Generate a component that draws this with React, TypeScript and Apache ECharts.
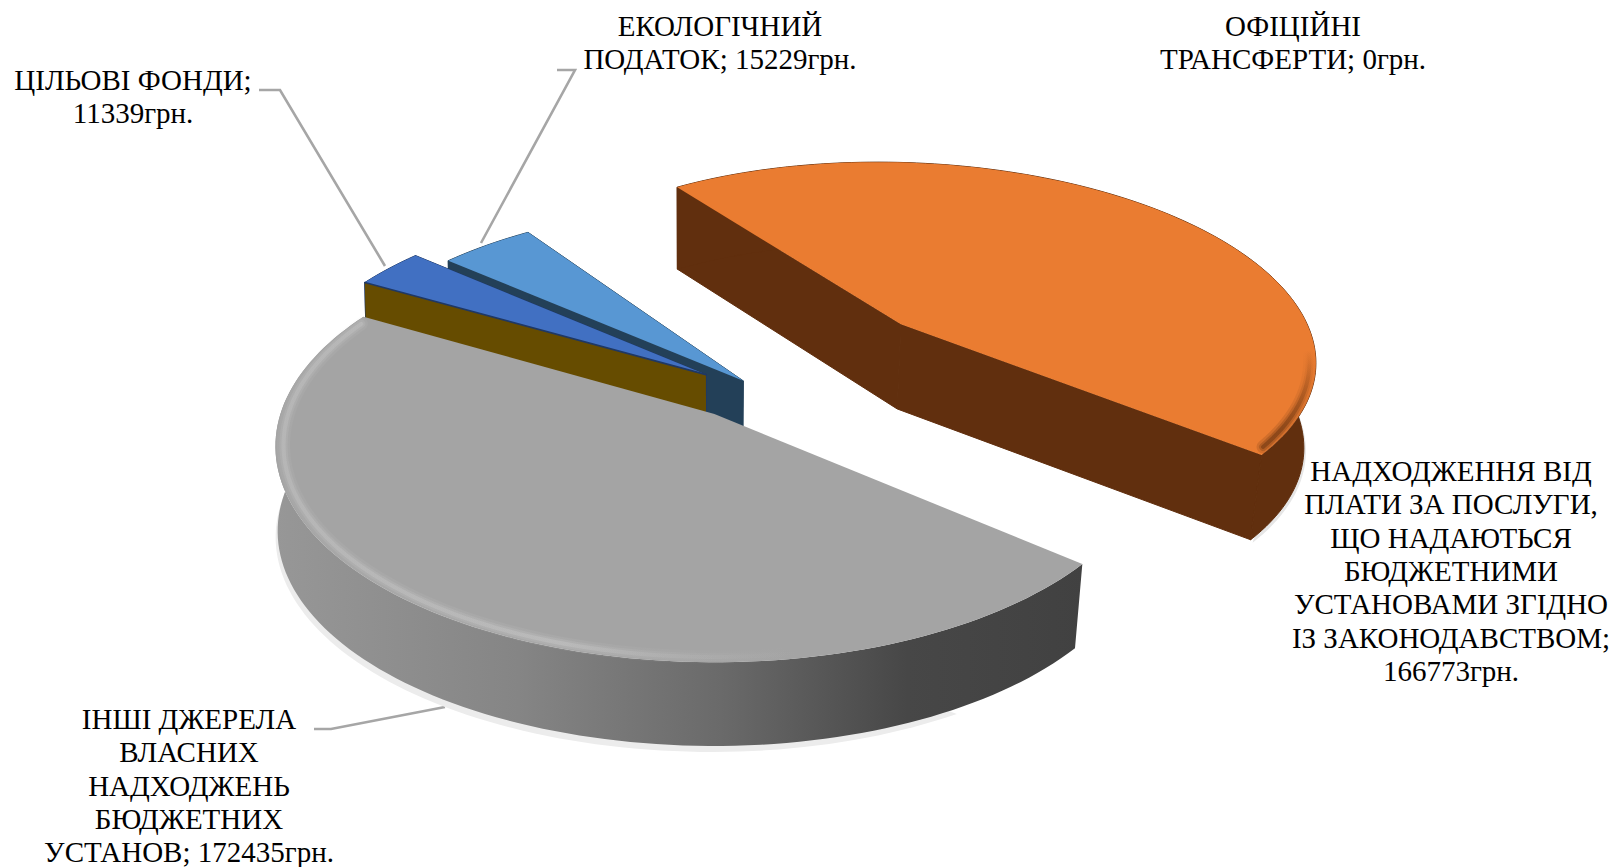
import React, { useEffect, useRef } from "react";
import * as echarts from "echarts";

// Clockwise order of the slices, beginning at the lower right of the grey one.
const categories = [
  "ІНШІ ДЖЕРЕЛА ВЛАСНИХ НАДХОДЖЕНЬ БЮДЖЕТНИХ УСТАНОВ",
  "ОФІЦІЙНІ ТРАНСФЕРТИ",
  "ЦІЛЬОВІ ФОНДИ",
  "ЕКОЛОГІЧНИЙ ПОДАТОК",
  "НАДХОДЖЕННЯ ВІД ПЛАТИ ЗА ПОСЛУГИ, ЩО НАДАЮТЬСЯ БЮДЖЕТНИМИ УСТАНОВАМИ ЗГІДНО ІЗ ЗАКОНОДАВСТВОМ",
];
const values = [172435, 0, 11339, 15229, 166773];
const unit = "грн.";
const labelLines = [
  ["ІНШІ ДЖЕРЕЛА", "ВЛАСНИХ", "НАДХОДЖЕНЬ", "БЮДЖЕТНИХ", "УСТАНОВ; "],
  ["ОФІЦІЙНІ", "ТРАНСФЕРТИ; "],
  ["ЦІЛЬОВІ ФОНДИ;", ""],
  ["ЕКОЛОГІЧНИЙ", "ПОДАТОК; "],
  ["НАДХОДЖЕННЯ ВІД", "ПЛАТИ ЗА ПОСЛУГИ,", "ЩО НАДАЮТЬСЯ", "БЮДЖЕТНИМИ", "УСТАНОВАМИ ЗГІДНО", "ІЗ ЗАКОНОДАВСТВОМ;", ""],
];

// styling and layout, separate from the data
const topColors = ["#A4A4A4", "#FFC000", "#4170C2", "#5897D3", "#EA7C31"];
const wallColors = ["#555555", "#664C00", "#1F3864", "#234058", "#612F0E"];
const explode: number[][] = [[0, 0], [-0.02, 0.192], [-0.02, 0.192], [0.068, 0.161], [0.459, 0.454]];
const drawOrder = [3, 4, 2, 1, 0];
const labelPos = [[189, 719], [1293, 26], [133, 80], [720, 26], [1451, 471]];
const lineStep = 33.3;
const leaders = [
  [[314, 729], [331, 729], [445, 707]],
  [[259, 90], [280, 90], [385, 266]],
  [[557, 70], [575, 70], [481, 243]],
];
const START = -40, OX = 714.4, OY = 414, RX = 434, RY = 211, P = 0.15, DEPTH = 85;
const total = values.reduce((a, b) => a + b, 0);
const d2r = Math.PI / 180;

function project(u: number, v: number) {
  const w = 1 + P * v;
  return [OX + (RX * u) / w, OY - (RY * v) / w];
}
function lower(u: number, v: number) {
  const w = 1 + P * v;
  const p = project(u, v);
  const k = p[0] > OX ? 0.98 : 0.995;
  const d = w < 1 ? DEPTH * (1 - 0.1 * (1 - w)) : DEPTH * (1 - 0.25 * Math.max(0, w - 1.05));
  return [OX + (p[0] - OX) * k, p[1] + d];
}

let acc = START;
const slices = values.map((val, i) => {
  const from = acc;
  const to = acc - (val / total) * 360;
  acc = to;
  return { from, to, off: explode[i] };
});

function arc(s: any, r: number, a0: number, a1: number, fn = project) {
  const n = Math.max(2, Math.ceil(Math.abs(a1 - a0) / 1.5));
  const pts: number[][] = [];
  for (let k = 0; k <= n; k++) {
    const a = (a0 + ((a1 - a0) * k) / n) * d2r;
    pts.push(fn(s.off[0] + r * Math.cos(a), s.off[1] + r * Math.sin(a)));
  }
  return pts;
}
function wall(s: any, ang: number) {
  const a = ang * d2r;
  const u0 = s.off[0], v0 = s.off[1];
  const u1 = u0 + Math.cos(a), v1 = v0 + Math.sin(a);
  return [project(u0, v0), project(u1, v1), lower(u1, v1), lower(u0, v0)];
}
const poly = (points: number[][], fill: any, extra: any = {}) => ({
  type: "polygon", shape: { points }, style: { fill, ...extra },
});
const stroke = (points: number[][], strokeStyle: any, lineWidth: number, opacity = 1) => ({
  type: "polyline", shape: { points },
  style: { fill: "none", stroke: strokeStyle, lineWidth, opacity, lineCap: "round" },
});
const linear = (x0: number, y0: number, x1: number, y1: number, stops: [number, string][]) =>
  new echarts.graphic.LinearGradient(x0, y0, x1, y1, stops.map(([offset, color]) => ({ offset, color })), true);

function renderSlice(_: any, api: any) {
  const i = api.value(0);
  const s = slices[i];
  const children: any[] = [];
  if (i === 1) {
    // the empty slice shows only its cut face
    const f = wall(s, s.from);
    children.push(poly(f, wallColors[1]));
    children.push(stroke([f[0], f[1]], "#1F3864", 1.6));
    return { type: "group", children };
  }
  const topOuter = arc(s, 1, s.from, s.to);
  const apex = project(s.off[0], s.off[1]);
  if (i === 0) {
    const shadowPts = arc(s, 1, -60, -190, lower).map((p) => [p[0] - 2, p[1] + 6]);
    children.push(poly(shadowPts, "#ECECEC"));
  }
  if (i === 4) {
    const shadowPts = arc(s, 1, s.to, s.to + 44, lower).map((p) => [p[0] + 2, p[1] + 3]);
    children.push(poly(shadowPts, "#E6E6E6"));
  }
  const rim = [...arc(s, 1, s.from, s.to), ...arc(s, 1, s.from, s.to, lower).reverse()];
  if (i === 0) {
    children.push(poly(rim, linear(276, 0, 1085, 0, [
      [0, "#979797"], [0.3, "#858585"], [0.55, "#6A6A6A"], [0.78, "#474747"], [1, "#414141"],
    ])));
  } else {
    const wc = wallColors[i];
    children.push(poly(wall(s, s.from), wc, { stroke: wc, lineWidth: 1 }));
    children.push(poly(wall(s, s.to), wc, { stroke: wc, lineWidth: 1 }));
    children.push(poly(rim, wc, { stroke: wc, lineWidth: 1 }));
  }
  children.push(poly([apex, ...topOuter], topColors[i]));
  if (i === 0) {
    const edge = arc(s, 0.982, s.to + 2, -70);
    const g = linear(276, 0, 800, 0, [
      [0, "rgba(215,215,215,0.5)"], [0.55, "rgba(220,220,220,0.55)"], [1, "rgba(200,200,200,0)"],
    ]);
    children.push(stroke(edge, g, 13, 0.15), stroke(edge, g, 8, 0.25), stroke(edge, g, 4, 0.4));
  }
  if (i === 4) {
    const edge = arc(s, 0.985, -38, 18);
    const g = linear(0, 350, 0, 430, [[0, "rgba(97,47,14,0)"], [1, "rgba(97,47,14,0.9)"]]);
    children.push(stroke(edge, g, 13, 0.2), stroke(edge, g, 8, 0.3), stroke(edge, g, 4, 0.5));
  }
  return { type: "group", children };
}

const labelGraphics: any[] = [];
labelLines.forEach((lines, i) => {
  const full = lines.map((l, k) => {
    if (k !== lines.length - 1) return l;
    return l + values[i] + unit;
  });
  full.forEach((line, k) => {
    labelGraphics.push({
      type: "text",
      x: labelPos[i][0],
      y: labelPos[i][1] + k * lineStep,
      style: {
        text: line,
        fill: "#000000",
        font: '29px "Liberation Serif", "Times New Roman", serif',
        textAlign: "center",
        textVerticalAlign: "middle",
      },
    });
  });
});
const leaderGraphics = leaders.map((points) => ({
  type: "polyline",
  shape: { points },
  style: { fill: "none", stroke: "#A6A6A6", lineWidth: 2.6 },
}));

export default function App() {
  const ref = useRef<HTMLDivElement>(null);
  useEffect(() => {
    const chart = echarts.init(ref.current!, undefined, { renderer: "svg" });
    chart.setOption({
      animation: false,
      backgroundColor: "#FFFFFF",
      series: [{
        type: "custom",
        coordinateSystem: "none",
        renderItem: renderSlice,
        data: drawOrder.map((i) => ({ name: categories[i], value: [i, values[i]] })),
        silent: true,
      }],
      graphic: { elements: [...leaderGraphics, ...labelGraphics] },
    });
    return () => chart.dispose();
  }, []);
  return <div ref={ref} style={{ position: "fixed", left: 0, top: 0, width: 1615, height: 867 }} />;
}
